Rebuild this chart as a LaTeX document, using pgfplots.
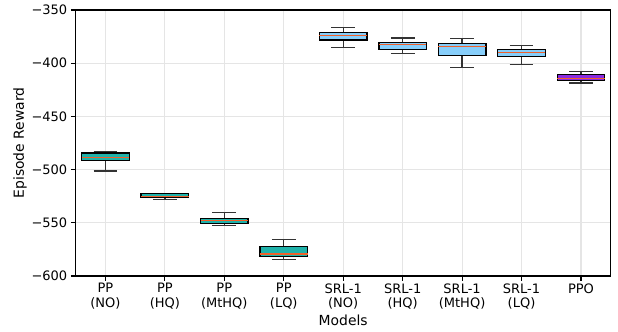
\documentclass[border=0pt]{standalone}
\usepackage{pgfplots}
\pgfplotsset{compat=1.18}
\usepackage{fontspec}
\setmainfont{DejaVu Sans}
\definecolor{ppteal}{HTML}{20B2AA}
\definecolor{srlblue}{HTML}{87CEFA}
\definecolor{ppoviolet}{HTML}{8A2BE2}
\definecolor{medcol}{HTML}{F0602A}
\pgfplotsset{
  bbox/.style={draw=black, line width=1.3pt, fill=#1},
  bmed/.style={draw=medcol, line width=1.4pt},
  bwh/.style={draw=black!80, line width=1.3pt},
}
\begin{document}
\begin{tikzpicture}
\begin{axis}[
  name=ax,
  scale only axis,
  width=535pt, height=266pt,
  xmin=0.5, xmax=9.5,
  ymin=-600, ymax=-350,
  xtick={1,2,3,4,5,6,7,8,9},
  xticklabels={PP\\(NO),PP\\(HQ),PP\\(MtHQ),PP\\(LQ),SRL-1\\(NO),SRL-1\\(HQ),SRL-1\\(MtHQ),SRL-1\\(LQ),PPO},
  xticklabel style={align=center, font=\fontsize{13}{14.5}\selectfont, yshift=1pt},
  ytick={-600,-550,-500,-450,-400,-350},
  yticklabels={−600,−550,−500,−450,−400,−350},
  yticklabel style={font=\fontsize{13}{14.5}\selectfont},
  tick pos=left,
  tick align=outside,
  major tick length=4.9pt,
  tick style={black, line width=1.1pt},
  axis line style={line width=1.1pt},
  grid=major,
  major grid style={black!10, line width=1.1pt},
  xlabel={Models},
  ylabel={Episode Reward},
  xlabel style={font=\fontsize{13.9}{16}\selectfont, at={(axis description cs:0.5,-0.165)}, anchor=center},
  ylabel style={font=\fontsize{13.9}{16}\selectfont, at={(axis description cs:-0.104,0.5)}, anchor=center},
  every axis plot/.append style={mark=none},
]
% ---- PP (NO) at 1: lw -501.3, q1 -491.3, med -488.8, q3 -484.4, uw -483.2
\addplot[bwh] coordinates {(1,-484.4) (1,-483.2)};
\addplot[bwh] coordinates {(0.8,-483.2) (1.2,-483.2)};
\addplot[bwh] coordinates {(1,-491.3) (1,-501.3)};
\addplot[bwh] coordinates {(0.8,-501.3) (1.2,-501.3)};
\addplot[bbox=ppteal] coordinates {(0.6,-491.3) (1.4,-491.3) (1.4,-484.4) (0.6,-484.4)} --cycle;
\addplot[bmed] coordinates {(0.6,-488.8) (1.4,-488.8)};
% ---- PP (HQ) at 2: lw -528.0, q1 -525.8, med -525.1, q3 -522.6, uw -522.3
\addplot[bwh] coordinates {(2,-522.6) (2,-522.3)};
\addplot[bwh] coordinates {(1.8,-522.3) (2.2,-522.3)};
\addplot[bwh] coordinates {(2,-525.8) (2,-528.0)};
\addplot[bwh] coordinates {(1.8,-528.0) (2.2,-528.0)};
\addplot[bbox=ppteal] coordinates {(1.6,-525.8) (2.4,-525.8) (2.4,-522.6) (1.6,-522.6)} --cycle;
\addplot[bmed] coordinates {(1.6,-525.1) (2.4,-525.1)};
% ---- PP (MtHQ) at 3: lw -552.7, q1 -550.5, med -547.7, q3 -545.8, uw -540.2
\addplot[bwh] coordinates {(3,-545.8) (3,-540.2)};
\addplot[bwh] coordinates {(2.8,-540.2) (3.2,-540.2)};
\addplot[bwh] coordinates {(3,-550.5) (3,-552.7)};
\addplot[bwh] coordinates {(2.8,-552.7) (3.2,-552.7)};
\addplot[bbox=ppteal] coordinates {(2.6,-550.5) (3.4,-550.5) (3.4,-545.8) (2.6,-545.8)} --cycle;
\addplot[bmed] coordinates {(2.6,-547.7) (3.4,-547.7)};
% ---- PP (LQ) at 4: lw -584.4, q1 -581.9, med -579.3, q3 -572.1, uw -565.6
\addplot[bwh] coordinates {(4,-572.1) (4,-565.6)};
\addplot[bwh] coordinates {(3.8,-565.6) (4.2,-565.6)};
\addplot[bwh] coordinates {(4,-581.9) (4,-584.4)};
\addplot[bwh] coordinates {(3.8,-584.4) (4.2,-584.4)};
\addplot[bbox=ppteal] coordinates {(3.6,-581.9) (4.4,-581.9) (4.4,-572.1) (3.6,-572.1)} --cycle;
\addplot[bmed] coordinates {(3.6,-579.3) (4.4,-579.3)};
% ---- SRL-1 (NO) at 5: lw -385.4, q1 -378.2, med -374.1, q3 -371.3, uw -366.6
\addplot[bwh] coordinates {(5,-371.3) (5,-366.6)};
\addplot[bwh] coordinates {(4.8,-366.6) (5.2,-366.6)};
\addplot[bwh] coordinates {(5,-378.2) (5,-385.4)};
\addplot[bwh] coordinates {(4.8,-385.4) (5.2,-385.4)};
\addplot[bbox=srlblue] coordinates {(4.6,-378.2) (5.4,-378.2) (5.4,-371.3) (4.6,-371.3)} --cycle;
\addplot[bmed] coordinates {(4.6,-374.1) (5.4,-374.1)};
% ---- SRL-1 (HQ) at 6: lw -391.0, q1 -387.0, med -382.3, q3 -380.4, uw -376.3
\addplot[bwh] coordinates {(6,-380.4) (6,-376.3)};
\addplot[bwh] coordinates {(5.8,-376.3) (6.2,-376.3)};
\addplot[bwh] coordinates {(6,-387.0) (6,-391.0)};
\addplot[bwh] coordinates {(5.8,-391.0) (6.2,-391.0)};
\addplot[bbox=srlblue] coordinates {(5.6,-387.0) (6.4,-387.0) (6.4,-380.4) (5.6,-380.4)} --cycle;
\addplot[bmed] coordinates {(5.6,-382.3) (6.4,-382.3)};
% ---- SRL-1 (MtHQ) at 7: lw -403.9, q1 -392.6, med -384.5, q3 -381.3, uw -377.0
\addplot[bwh] coordinates {(7,-381.3) (7,-377.0)};
\addplot[bwh] coordinates {(6.8,-377.0) (7.2,-377.0)};
\addplot[bwh] coordinates {(7,-392.6) (7,-403.9)};
\addplot[bwh] coordinates {(6.8,-403.9) (7.2,-403.9)};
\addplot[bbox=srlblue] coordinates {(6.6,-392.6) (7.4,-392.6) (7.4,-381.3) (6.6,-381.3)} --cycle;
\addplot[bmed] coordinates {(6.6,-384.5) (7.4,-384.5)};
% ---- SRL-1 (LQ) at 8: lw -401.1, q1 -393.5, med -389.8, q3 -387.0, uw -383.2
\addplot[bwh] coordinates {(8,-387.0) (8,-383.2)};
\addplot[bwh] coordinates {(7.8,-383.2) (8.2,-383.2)};
\addplot[bwh] coordinates {(8,-393.5) (8,-401.1)};
\addplot[bwh] coordinates {(7.8,-401.1) (8.2,-401.1)};
\addplot[bbox=srlblue] coordinates {(7.6,-393.5) (8.4,-393.5) (8.4,-387.0) (7.6,-387.0)} --cycle;
\addplot[bmed] coordinates {(7.6,-389.8) (8.4,-389.8)};
% ---- PPO at 9: lw -418.6, q1 -416.4, med -414.2, q3 -410.4, uw -408.0
\addplot[bwh] coordinates {(9,-410.4) (9,-408.0)};
\addplot[bwh] coordinates {(8.8,-408.0) (9.2,-408.0)};
\addplot[bwh] coordinates {(9,-416.4) (9,-418.6)};
\addplot[bwh] coordinates {(8.8,-418.6) (9.2,-418.6)};
\addplot[bbox=ppoviolet] coordinates {(8.6,-416.4) (9.4,-416.4) (9.4,-410.4) (8.6,-410.4)} --cycle;
\addplot[bmed] coordinates {(8.6,-414.2) (9.4,-414.2)};
\end{axis}
\pgfresetboundingbox
\path ([xshift=-75.7pt,yshift=-55pt]ax.south west) rectangle ([xshift=7.3pt,yshift=10pt]ax.north east);
\end{tikzpicture}
\end{document}
